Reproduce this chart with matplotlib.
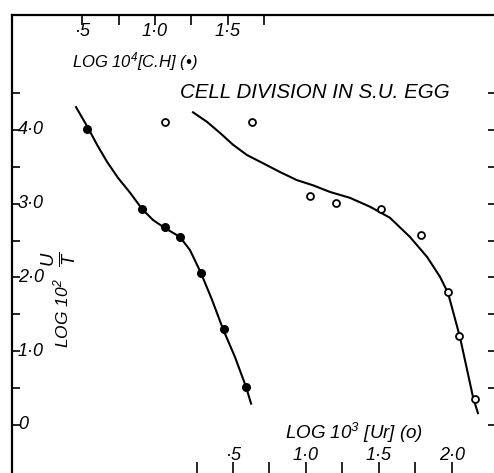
import matplotlib
matplotlib.use("Agg")
import matplotlib.pyplot as plt
import matplotlib.transforms as mtransforms

# values
# filled points: log 10^4 [C.H] (top scale)
ch_x = [0.534, 0.911, 1.068, 1.171, 1.315, 1.473, 1.623]
ch_y = [4.01, 2.93, 2.68, 2.55, 2.06, 1.30, 0.52]
ch_curve_x = [0.459, 0.541, 0.603, 0.671, 0.747, 0.829, 0.911, 0.986, 1.068, 1.171,
              1.240, 1.315, 1.390, 1.466, 1.548, 1.623, 1.658]
ch_curve_y = [4.31, 4.03, 3.80, 3.57, 3.35, 3.15, 2.93, 2.78, 2.67, 2.55,
              2.37, 2.06, 1.70, 1.30, 0.92, 0.52, 0.29]

# open points: log 10^3 [Ur] (bottom scale)
ur_x = [0.034, 0.630, 1.027, 1.205, 1.514, 1.788, 1.973, 2.048, 2.158]
ur_y = [4.11, 4.11, 3.11, 3.01, 2.93, 2.58, 1.80, 1.21, 0.35]
ur_curve_x = [0.226, 0.322, 0.411, 0.500, 0.596, 0.705, 0.822, 0.938, 1.048, 1.164,
              1.301, 1.438, 1.575, 1.712, 1.829, 1.918, 1.973, 2.055, 2.144, 2.178]
ur_curve_y = [4.24, 4.11, 3.96, 3.80, 3.66, 3.55, 3.43, 3.32, 3.25, 3.16,
              3.08, 2.96, 2.81, 2.55, 2.28, 2.01, 1.79, 1.19, 0.38, 0.16]

y_ticks = [0, 0.5, 1.0, 1.5, 2.0, 2.5, 3.0, 3.5, 4.0, 4.5]
y_labels = {0: "0", 1.0: "1·0", 2.0: "2·0", 3.0: "3·0", 4.0: "4·0"}
top_ticks = [0.5, 0.75, 1.0, 1.25, 1.5, 1.75]
top_labels = {0.5: "·5", 1.0: "1·0", 1.5: "1·5"}
bot_ticks = [0.25, 0.5, 0.75, 1.0, 1.25, 1.5, 1.75, 2.0]
bot_labels = {0.5: "·5", 1.0: "1·0", 1.5: "1·5", 2.0: "2·0"}

plt.rcParams['font.family'] = ['Liberation Sans', 'DejaVu Sans']
plt.rcParams['font.style'] = 'italic'
plt.rcParams['mathtext.fontset'] = 'custom'
plt.rcParams['mathtext.rm'] = 'Liberation Sans:italic'
plt.rcParams['mathtext.it'] = 'Liberation Sans:italic'
plt.rcParams['mathtext.default'] = 'it'

W, H = 494, 473
fig = plt.figure(figsize=(W / 100, H / 100), dpi=100)
ax = fig.add_axes([12 / W, 0, (W - 12) / W, (H - 15) / H])
ax_top = ax.twiny()

ax.set_xlim(-1.014, 2.288)
ax_top.set_xlim(0.0205, 3.322)
ax.set_ylim(-0.651, 5.559)

# curves and points
ax.plot(ur_curve_x, ur_curve_y, color='black', lw=1.5, solid_joinstyle='round')
ax.plot(ur_x, ur_y, 'o', ms=5, mfc='white', mec='black', mew=1.3)
ax_top.plot(ch_curve_x, ch_curve_y, color='black', lw=1.5, solid_joinstyle='round')
ax_top.plot(ch_x, ch_y, 'o', ms=5.5, color='black')

# spines
for s in ['top', 'right', 'bottom']:
    ax.spines[s].set_visible(False)
ax.spines['left'].set_linewidth(1.6)
for s in ['left', 'right', 'bottom']:
    ax_top.spines[s].set_visible(False)
ax_top.spines['top'].set_linewidth(1.6)

# ticks
ax.set_yticks(y_ticks)
ax.set_xticks(bot_ticks)
ax.tick_params(axis='y', direction='in', length=6, width=1.2, labelleft=False)
ax.tick_params(axis='x', direction='in', length=8, width=1.2, labelbottom=False)
ax_top.set_xticks(top_ticks)
ax_top.tick_params(axis='x', direction='in', length=7, width=1.2, labeltop=False)
ax_top.yaxis.set_visible(True)
ax_top.set_yticks(y_ticks)
ax_top.tick_params(axis='y', left=False, right=True, direction='in', length=4,
                   width=1.2, labelleft=False, labelright=False)

# tick labels drawn inside the frame
ty = mtransforms.blended_transform_factory(ax.transAxes, ax.transData)
for v, s in y_labels.items():
    ax.text(0.012, v, s, transform=ty, ha='left', va='center', fontsize=13)
tt = mtransforms.blended_transform_factory(ax_top.transData, ax.transAxes)
for v, s in top_labels.items():
    ax.text(v, 0.963, s, transform=tt, ha='center', va='center', fontsize=13)
tb = mtransforms.blended_transform_factory(ax.transData, ax.transAxes)
for v, s in bot_labels.items():
    ax.text(v, 0.039, s, transform=tb, ha='center', va='center', fontsize=13)

# axis titles
fig.text(72 / W, 1 - 62 / H, r"LOG 10$^4$[C.H] (•)", ha='left', va='center', fontsize=12)
fig.text(285 / W, 1 - 433 / H, r"LOG 10$^3$ [Ur] (o)", ha='left', va='center', fontsize=13.5)
fig.text(61 / W, 1 - 313 / H, r"LOG 10$^2$", rotation=90,
         ha='center', va='center', fontsize=12.5)
fig.text(60 / W, 1 - 259 / H, r"$\frac{U}{T}$", rotation=90,
         ha='center', va='center', fontsize=19)
fig.text(315 / W, 1 - 92 / H, "CELL DIVISION IN S.U. EGG", ha='center', va='center',
         fontsize=14.8)

fig.savefig("out.png", dpi=100, facecolor='white')
